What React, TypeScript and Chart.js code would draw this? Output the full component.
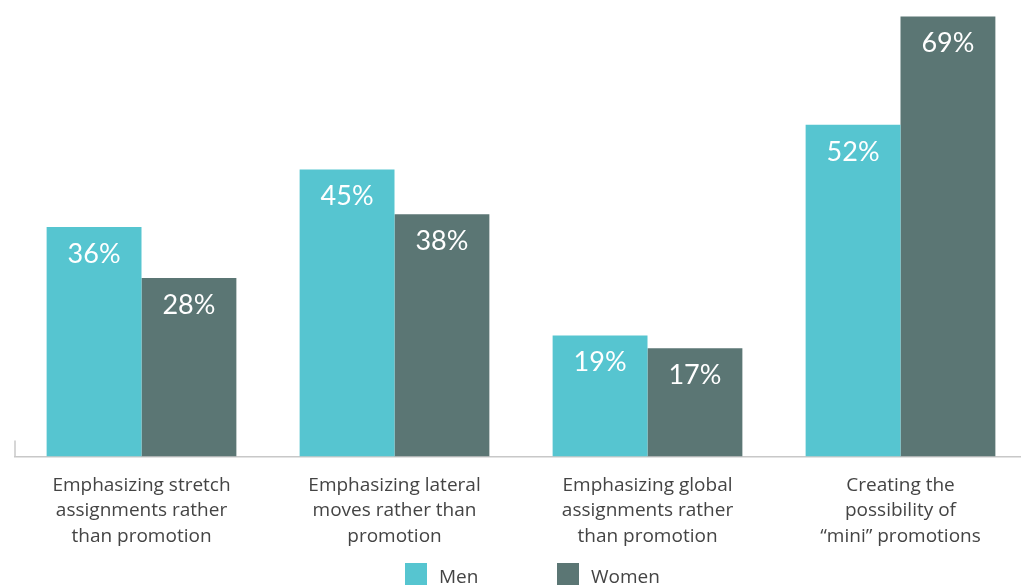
import React, { useEffect, useRef } from "react";
import { Chart, registerables } from "chart.js";

Chart.register(...registerables);

const categories: string[][] = [
  ["Emphasizing stretch", "assignments rather", "than promotion"],
  ["Emphasizing lateral", "moves rather than", "promotion"],
  ["Emphasizing global", "assignments rather", "than promotion"],
  ["Creating the", "possibility of", "\u201cmini\u201d promotions"],
];
const menValues = [36, 45, 19, 52];
const womenValues = [28, 38, 17, 69];
const seriesNames = ["Men", "Women"];
const colors = ["#56C5D0", "#5B7674"];

const valueLabels = {
  id: "valueLabels",
  afterDatasetsDraw(chart: any) {
    const ctx = chart.ctx;
    ctx.save();
    ctx.fillStyle = "#ffffff";
    ctx.font = "400 27px 'Lato', sans-serif";
    ctx.textAlign = "center";
    ctx.textBaseline = "middle";
    chart.data.datasets.forEach((ds: any, i: number) => {
      const meta = chart.getDatasetMeta(i);
      meta.data.forEach((bar: any, j: number) => {
        ctx.fillText(ds.data[j] + "%", bar.x, bar.y + 27);
      });
    });
    ctx.restore();
  },
};

const leftTick = {
  id: "leftTick",
  afterDraw(chart: any) {
    const ctx = chart.ctx;
    const x = chart.chartArea.left;
    const y = chart.scales.y.getPixelForValue(0);
    ctx.save();
    ctx.strokeStyle = "#c8c8c8";
    ctx.lineWidth = 1.5;
    ctx.beginPath();
    ctx.moveTo(x, y - 16);
    ctx.lineTo(x, y);
    ctx.stroke();
    ctx.restore();
  },
};

const legendItem = (color: string, label: string, left: number) => (
  <div
    key={label}
    style={{
      position: "absolute",
      left,
      top: 563,
      display: "flex",
      alignItems: "flex-start",
      fontFamily: "'Open Sans', sans-serif",
      fontSize: 19,
      color: "#444444",
      lineHeight: "26px",
    }}
  >
    <span style={{ display: "inline-block", width: 22, height: 22, background: color, marginRight: 12 }} />
    <span>{label}</span>
  </div>
);

export default function App() {
  const ref = useRef<HTMLCanvasElement | null>(null);
  useEffect(() => {
    if (!ref.current) return;
    const chart = new Chart(ref.current, {
      type: "bar",
      data: {
        labels: categories,
        datasets: [
          { label: seriesNames[0], data: menValues, backgroundColor: colors[0] },
          { label: seriesNames[1], data: womenValues, backgroundColor: colors[1] },
        ],
      },
      options: {
        animation: false,
        responsive: false,
        layout: { padding: { left: 15, right: 8, top: 10, bottom: 0 } },
        datasets: {
          bar: { categoryPercentage: 0.75, barPercentage: 1 },
        },
        scales: {
          x: {
            grid: { display: false, drawTicks: false },
            border: { display: true, color: "#c8c8c8", width: 1.5 },
            ticks: {
              padding: 16,
              color: "#444444",
              font: { family: "'Open Sans', sans-serif", size: 19, lineHeight: 1.34 },
              maxRotation: 0,
              autoSkip: false,
            },
          },
          y: {
            display: false,
            min: 0,
            max: 70,
          },
        },
        plugins: {
          legend: { display: false },
          tooltip: { enabled: false },
        },
      },
      plugins: [valueLabels, leftTick],
    });
    return () => chart.destroy();
  }, []);
  return (
    <div style={{ position: "fixed", left: 0, top: 0, width: 1035, height: 586, overflow: "hidden" }}>
      <canvas ref={ref} width={1035} height={565} style={{ position: "absolute", left: 0, top: 0 }} />
      {legendItem(colors[0], seriesNames[0], 405)}
      {legendItem(colors[1], seriesNames[1], 557)}
    </div>
  );
}
